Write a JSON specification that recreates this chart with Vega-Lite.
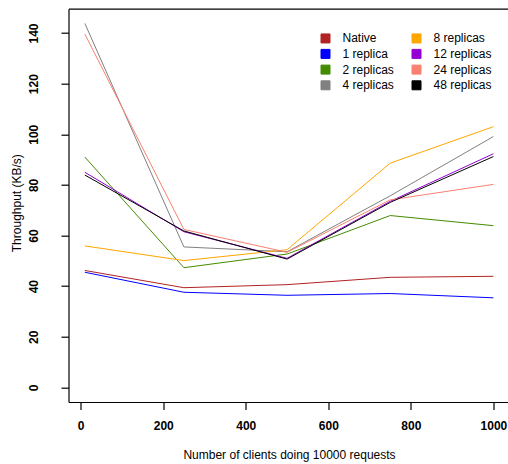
{
  "$schema": "https://vega.github.io/schema/vega-lite/v6.json",
  "width": 439.5,
  "height": 393.3,
  "autosize": {"type": "none"},
  "padding": {"left": 68.5, "top": 8.7, "right": 0, "bottom": 62},
  "background": "white",
  "config": {
    "view": {"stroke": null},
    "font": "Liberation Sans",
    "axis": {
      "domainColor": "black", "domainWidth": 1.2, "tickColor": "black", "tickWidth": 1.2,
      "tickSize": 7.5, "grid": false, "labelFont": "Liberation Sans", "labelFontSize": 12,
      "labelFontWeight": "bold", "labelColor": "black", "titleFont": "Liberation Sans",
      "titleFontSize": 12, "titleFontWeight": "normal", "titleColor": "black"
    }
  },
  "data": {"values": [
    {"series": "Native", "clients": 10, "kbs": 46.2},
    {"series": "Native", "clients": 250, "kbs": 39.4},
    {"series": "Native", "clients": 500, "kbs": 40.6},
    {"series": "Native", "clients": 750, "kbs": 43.5},
    {"series": "Native", "clients": 1000, "kbs": 43.9},
    {"series": "1 replica", "clients": 10, "kbs": 45.5},
    {"series": "1 replica", "clients": 250, "kbs": 37.6},
    {"series": "1 replica", "clients": 500, "kbs": 36.4},
    {"series": "1 replica", "clients": 750, "kbs": 37.1},
    {"series": "1 replica", "clients": 1000, "kbs": 35.4},
    {"series": "2 replicas", "clients": 10, "kbs": 91.0},
    {"series": "2 replicas", "clients": 250, "kbs": 47.3},
    {"series": "2 replicas", "clients": 500, "kbs": 52.7},
    {"series": "2 replicas", "clients": 750, "kbs": 67.9},
    {"series": "2 replicas", "clients": 1000, "kbs": 63.9},
    {"series": "4 replicas", "clients": 10, "kbs": 143.8},
    {"series": "4 replicas", "clients": 250, "kbs": 55.5},
    {"series": "4 replicas", "clients": 500, "kbs": 53.6},
    {"series": "4 replicas", "clients": 750, "kbs": 75.7},
    {"series": "4 replicas", "clients": 1000, "kbs": 99.1},
    {"series": "8 replicas", "clients": 10, "kbs": 55.9},
    {"series": "8 replicas", "clients": 250, "kbs": 50.1},
    {"series": "8 replicas", "clients": 500, "kbs": 54.4},
    {"series": "8 replicas", "clients": 750, "kbs": 88.6},
    {"series": "8 replicas", "clients": 1000, "kbs": 103.0},
    {"series": "12 replicas", "clients": 10, "kbs": 85.0},
    {"series": "12 replicas", "clients": 250, "kbs": 61.5},
    {"series": "12 replicas", "clients": 500, "kbs": 51.0},
    {"series": "12 replicas", "clients": 750, "kbs": 73.5},
    {"series": "12 replicas", "clients": 1000, "kbs": 92.3},
    {"series": "24 replicas", "clients": 10, "kbs": 139.6},
    {"series": "24 replicas", "clients": 250, "kbs": 62.4},
    {"series": "24 replicas", "clients": 500, "kbs": 53.4},
    {"series": "24 replicas", "clients": 750, "kbs": 74.1},
    {"series": "24 replicas", "clients": 1000, "kbs": 80.2},
    {"series": "48 replicas", "clients": 10, "kbs": 83.9},
    {"series": "48 replicas", "clients": 250, "kbs": 61.8},
    {"series": "48 replicas", "clients": 500, "kbs": 50.7},
    {"series": "48 replicas", "clients": 750, "kbs": 73.1},
    {"series": "48 replicas", "clients": 1000, "kbs": 91.2}
  ]},
  "layer": [
    {
      "mark": {"type": "line", "strokeWidth": 1, "clip": true},
      "encoding": {
        "x": {
          "field": "clients", "type": "quantitative",
          "scale": {"domain": [-29.6, 1035.4], "nice": false, "zero": false},
          "axis": {
            "orient": "bottom", "values": [0, 200, 400, 600, 800, 1000], "format": "d",
            "title": "Number of clients doing 10000 requests",
            "labelBaseline": "alphabetic", "labelPadding": 20,
            "titleBaseline": "alphabetic", "titleY": 56, "titleX": 220.5, "titleAnchor": "middle"
          }
        },
        "y": {
          "field": "kbs", "type": "quantitative",
          "scale": {"domain": [-5.75, 149.6], "nice": false, "zero": false},
          "axis": {
            "values": [0, 20, 40, 60, 80, 100, 120, 140],
            "title": "Throughput (KB/s)",
            "labelAngle": 270, "labelAlign": "center", "labelBaseline": "alphabetic", "labelPadding": 23.5,
            "titleAngle": 270, "titleBaseline": "alphabetic", "titleX": -48, "titleY": 194, "titleAlign": "center"
          }
        },
        "color": {
          "field": "series", "type": "nominal",
          "scale": {
            "domain": ["Native", "1 replica", "2 replicas", "4 replicas", "8 replicas", "12 replicas", "24 replicas", "48 replicas"],
            "range": ["#B22222", "#0000FF", "#458B00", "#808080", "#FFA500", "#9400D3", "#FA8072", "#000000"]
          },
          "legend": {
            "title": null, "orient": "none", "legendX": 251, "legendY": 23.5,
            "columns": 2, "symbolType": "square", "symbolSize": 81,
            "labelFont": "Liberation Sans", "labelFontSize": 12, "labelColor": "black",
            "labelOffset": 11, "columnPadding": 15, "rowPadding": 1.7,
            "symbolStrokeColor": "#222222", "symbolStrokeWidth": 1,
            "encode": {"symbols": {"update": {
              "fill": {"scale": "color", "field": "value"},
              "stroke": {"value": "#222222"}, "strokeWidth": {"value": 1}, "opacity": {"value": 1}
            }}}
          }
        }
      }
    },
    {
      "mark": {"type": "line", "opacity": 0},
      "encoding": {
        "x": {
          "field": "clients", "type": "quantitative",
          "scale": {"domain": [-29.6, 1035.4], "nice": false, "zero": false},
          "axis": {"orient": "top", "ticks": false, "labels": false, "title": null, "domain": true}
        },
        "y": {"field": "kbs", "type": "quantitative"}
      }
    }
  ],
  "resolve": {"axis": {"x": "independent"}}
}
